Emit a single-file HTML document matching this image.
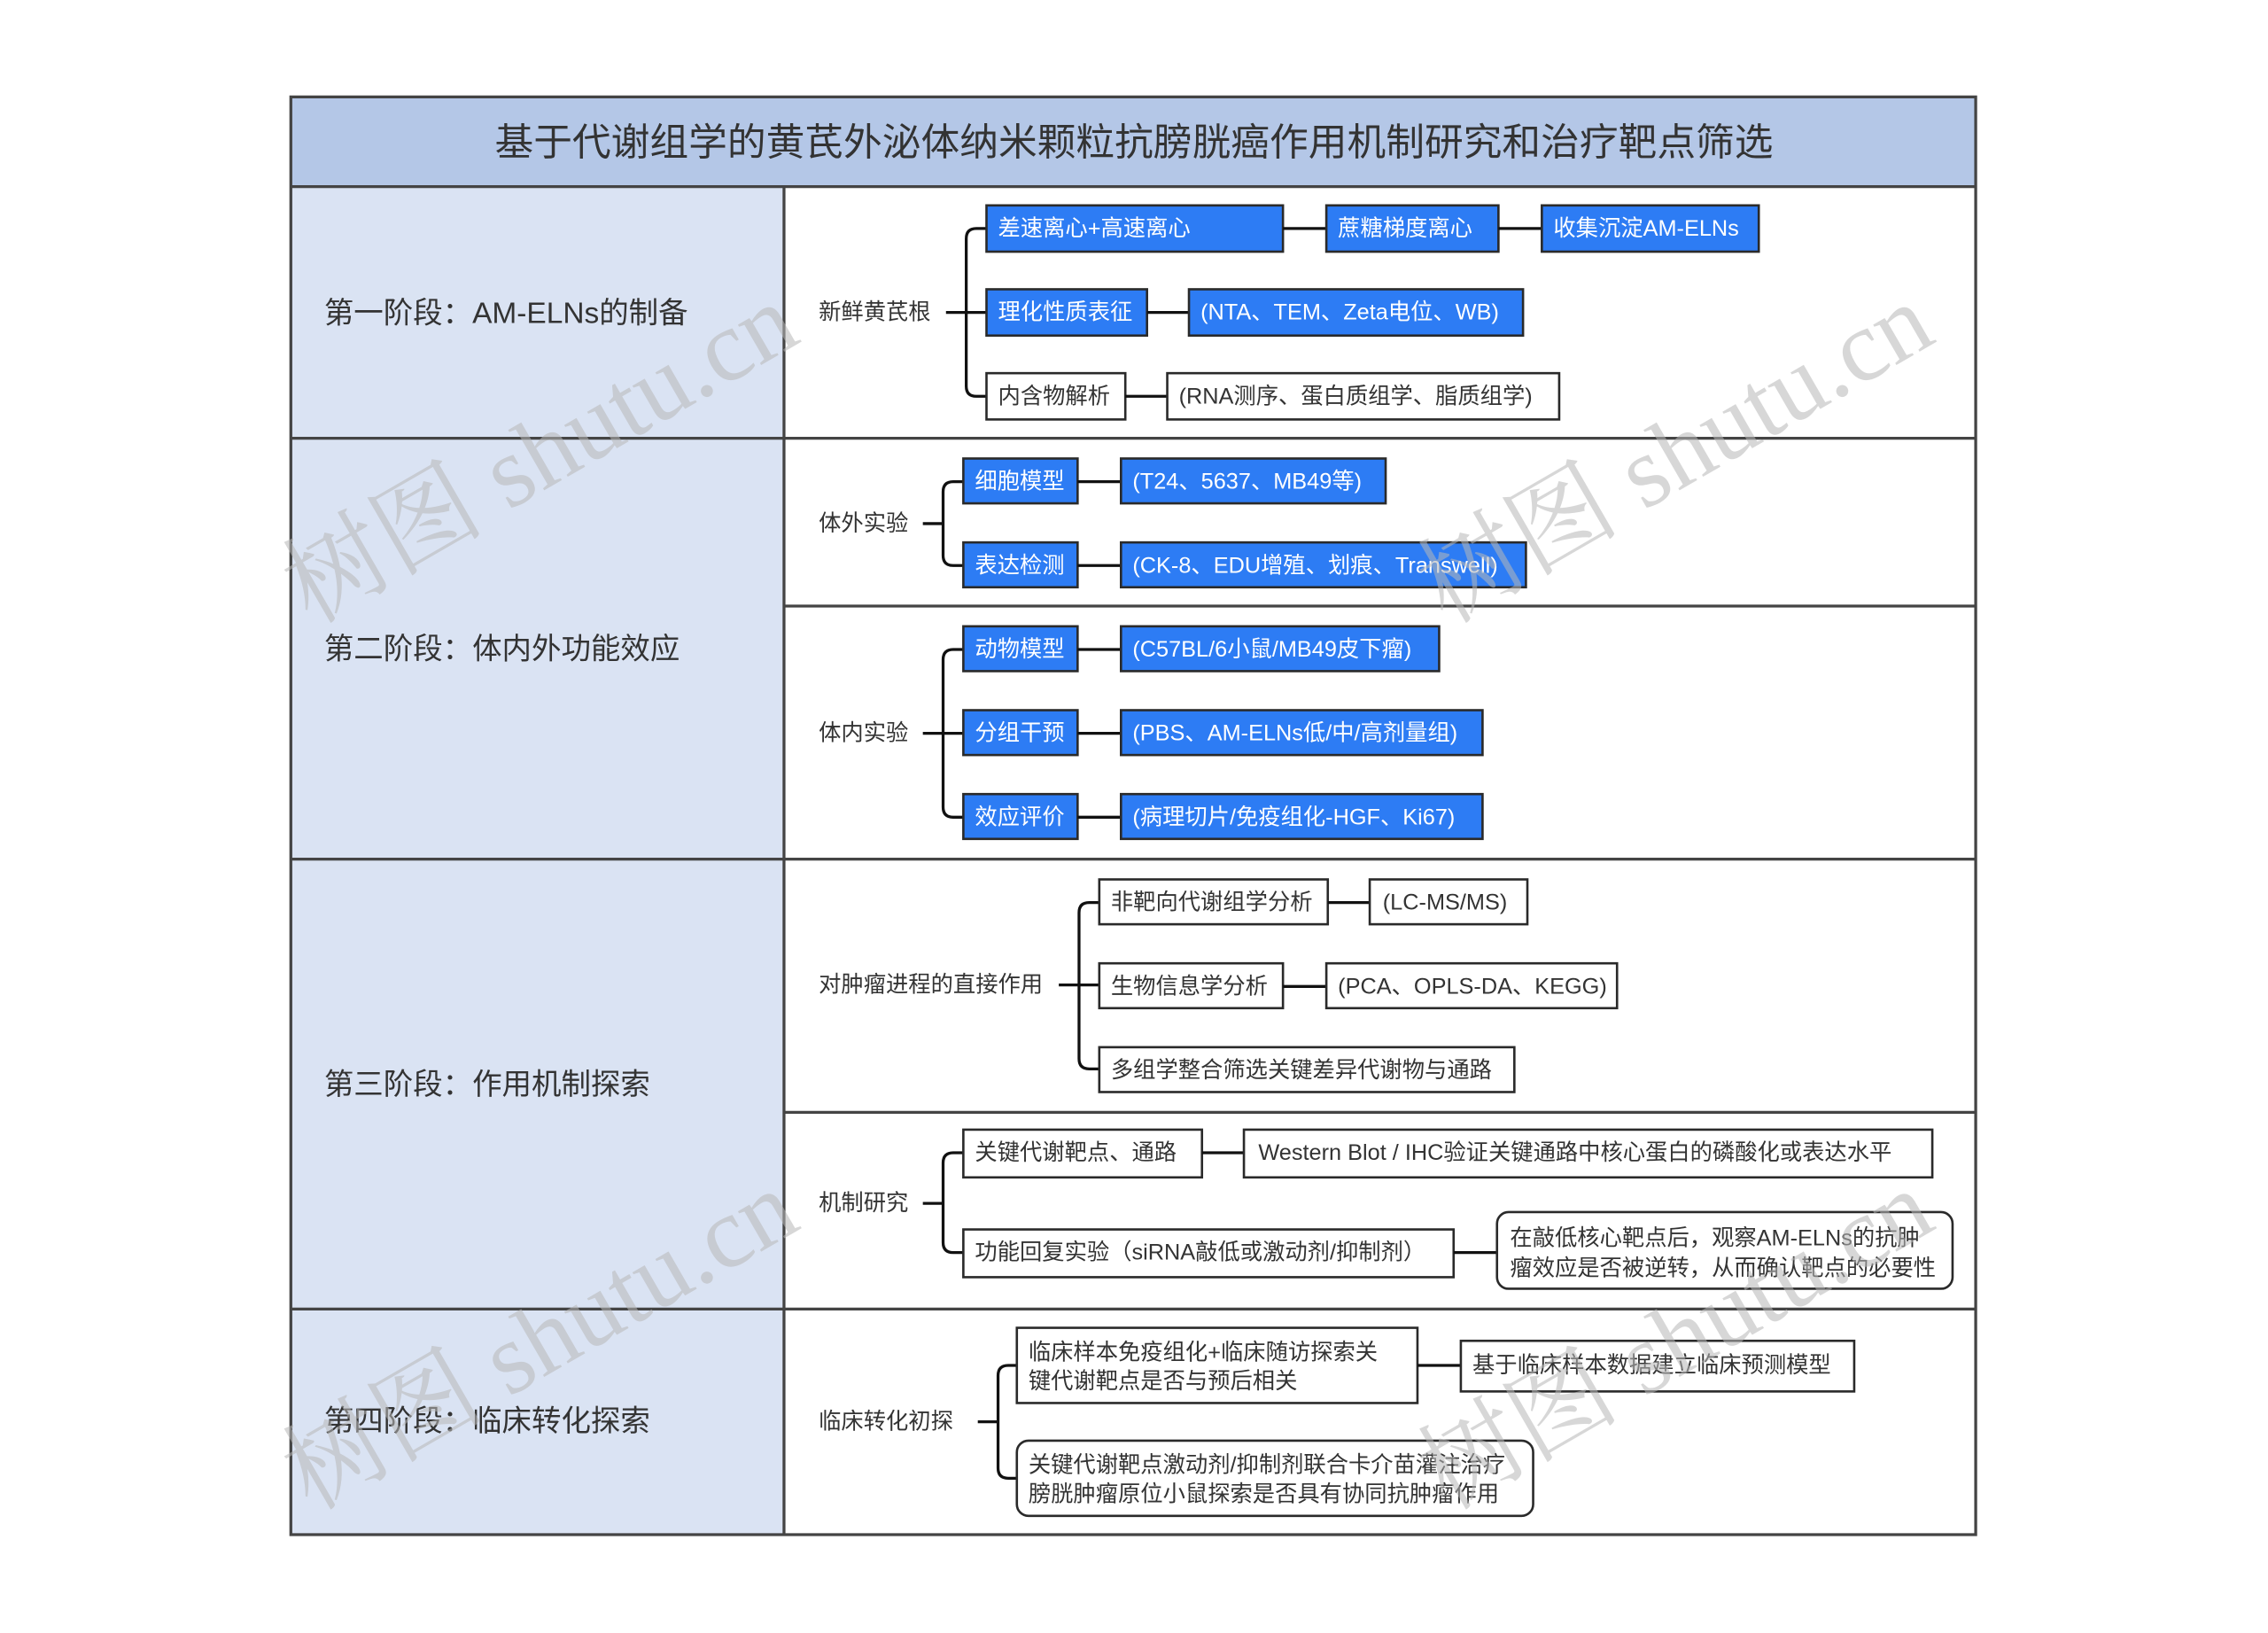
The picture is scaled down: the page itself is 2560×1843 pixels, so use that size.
<!DOCTYPE html>
<html><head><meta charset="utf-8">
<style>
html,body{margin:0;padding:0;background:#fff;}
svg{display:block;}
text{font-family:"Liberation Sans","Noto Sans CJK SC",sans-serif;fill:#333;}
.b{fill:#2d7cf4;stroke:#2a2a2a;stroke-width:1.6;}
.w{fill:#fff;stroke:#2a2a2a;stroke-width:1.6;}
.bt{fill:#fff;font-size:15.5px;}
.wt{fill:#333;font-size:15.5px;}
.l{fill:none;stroke:#111;stroke-width:2;}
.wm{font-family:"Liberation Serif","Noto Serif CJK SC",serif;font-size:70px;fill:#b8b8b8;opacity:0.55;}
</style></head>
<body>
<svg width="2560" height="1843" viewBox="0 0 1568 1129" xmlns="http://www.w3.org/2000/svg">
<rect x="0" y="0" width="1568" height="1129" fill="#fff"/>
<rect x="201" y="67" width="1165" height="62" fill="#b4c7e7"/>
<rect x="201" y="129" width="341" height="932" fill="#dae3f3"/>
<rect x="201" y="67" width="1165" height="994" fill="none" stroke="#444" stroke-width="2"/>
<line x1="201" y1="129" x2="1366" y2="129" stroke="#444" stroke-width="2"/>
<line x1="542" y1="129" x2="542" y2="1061" stroke="#444" stroke-width="2"/>
<line x1="201" y1="303" x2="1366" y2="303" stroke="#444" stroke-width="2"/>
<line x1="201" y1="594" x2="1366" y2="594" stroke="#444" stroke-width="2"/>
<line x1="201" y1="905" x2="1366" y2="905" stroke="#444" stroke-width="2"/>
<line x1="542" y1="419" x2="1366" y2="419" stroke="#444" stroke-width="2"/>
<line x1="542" y1="769" x2="1366" y2="769" stroke="#444" stroke-width="2"/>
<text x="342" y="99" font-size="26.5" textLength="884" lengthAdjust="spacingAndGlyphs" dominant-baseline="central">基于代谢组学的黄芪外泌体纳米颗粒抗膀胱癌作用机制研究和治疗靶点筛选</text>
<text x="224" y="217" font-size="20.5" dominant-baseline="central">第一阶段：AM-ELNs的制备</text>
<text x="224" y="449" font-size="20.5" dominant-baseline="central">第二阶段：体内外功能效应</text>
<text x="224" y="750" font-size="20.5" dominant-baseline="central">第三阶段：作用机制探索</text>
<text x="224" y="983" font-size="20.5" dominant-baseline="central">第四阶段：临床转化探索</text>

<text x="566" y="216" font-size="15.5" dominant-baseline="central">新鲜黄芪根</text>
<path class="l" d="M654 216H668 M682 158H675Q668 158 668 165V267Q668 274 675 274H682 M668 216H682"/>
<rect class="b" x="682" y="142" width="205" height="32"/><text class="bt" x="690" y="158" dominant-baseline="central">差速离心+高速离心</text>
<line class="l" x1="887" y1="158" x2="917" y2="158"/>
<rect class="b" x="917" y="142" width="119" height="32"/><text class="bt" x="925" y="158" dominant-baseline="central">蔗糖梯度离心</text>
<line class="l" x1="1036" y1="158" x2="1066" y2="158"/>
<rect class="b" x="1066" y="142" width="150" height="32"/><text class="bt" x="1074" y="158" dominant-baseline="central">收集沉淀AM-ELNs</text>
<rect class="b" x="682" y="200" width="111" height="32"/><text class="bt" x="690" y="216" dominant-baseline="central">理化性质表征</text>
<line class="l" x1="793" y1="216" x2="822" y2="216"/>
<rect class="b" x="822" y="200" width="231" height="32"/><text class="bt" x="830" y="216" dominant-baseline="central">(NTA、TEM、Zeta电位、WB)</text>
<rect class="w" x="682" y="258" width="96" height="32"/><text class="wt" x="690" y="274" dominant-baseline="central">内含物解析</text>
<line class="l" x1="778" y1="274" x2="807" y2="274"/>
<rect class="w" x="807" y="258" width="271" height="32"/><text class="wt" x="815" y="274" dominant-baseline="central">(RNA测序、蛋白质组学、脂质组学)</text>

<text x="566" y="362" font-size="15.5" dominant-baseline="central">体外实验</text>
<path class="l" d="M638 362H652 M666 333H659Q652 333 652 340V384Q652 391 659 391H666"/>
<rect class="b" x="666" y="317" width="79" height="31"/><text class="bt" x="674" y="333" dominant-baseline="central">细胞模型</text>
<line class="l" x1="745" y1="333" x2="775" y2="333"/>
<rect class="b" x="775" y="317" width="183" height="31"/><text class="bt" x="783" y="333" dominant-baseline="central">(T24、5637、MB49等)</text>
<rect class="b" x="666" y="375" width="79" height="31"/><text class="bt" x="674" y="391" dominant-baseline="central">表达检测</text>
<line class="l" x1="745" y1="391" x2="775" y2="391"/>
<rect class="b" x="775" y="375" width="280" height="31"/><text class="bt" x="783" y="391" dominant-baseline="central">(CK-8、EDU增殖、划痕、Transwell)</text>

<text x="566" y="507" font-size="15.5" dominant-baseline="central">体内实验</text>
<path class="l" d="M638 507H652 M666 449H659Q652 449 652 456V558Q652 565 659 565H666 M652 507H666"/>
<rect class="b" x="666" y="433" width="79" height="31"/><text class="bt" x="674" y="449" dominant-baseline="central">动物模型</text>
<line class="l" x1="745" y1="449" x2="775" y2="449"/>
<rect class="b" x="775" y="433" width="220" height="31"/><text class="bt" x="783" y="449" dominant-baseline="central">(C57BL/6小鼠/MB49皮下瘤)</text>
<rect class="b" x="666" y="491" width="79" height="31"/><text class="bt" x="674" y="507" dominant-baseline="central">分组干预</text>
<line class="l" x1="745" y1="507" x2="775" y2="507"/>
<rect class="b" x="775" y="491" width="250" height="31"/><text class="bt" x="783" y="507" dominant-baseline="central">(PBS、AM-ELNs低/中/高剂量组)</text>
<rect class="b" x="666" y="549" width="79" height="31"/><text class="bt" x="674" y="565" dominant-baseline="central">效应评价</text>
<line class="l" x1="745" y1="565" x2="775" y2="565"/>
<rect class="b" x="775" y="549" width="250" height="31"/><text class="bt" x="783" y="565" dominant-baseline="central">(病理切片/免疫组化-HGF、Ki67)</text>

<text x="566" y="681" font-size="15.5" dominant-baseline="central">对肿瘤进程的直接作用</text>
<path class="l" d="M732 681H746 M760 624H753Q746 624 746 631V732Q746 739 753 739H760 M746 681H760"/>
<rect class="w" x="760" y="608" width="158" height="31"/><text class="wt" x="768" y="624" dominant-baseline="central">非靶向代谢组学分析</text>
<line class="l" x1="918" y1="624" x2="947" y2="624"/>
<rect class="w" x="947" y="608" width="109" height="31"/><text class="wt" x="956" y="624" dominant-baseline="central">(LC-MS/MS)</text>
<rect class="w" x="760" y="666" width="127" height="31"/><text class="wt" x="768" y="682" dominant-baseline="central">生物信息学分析</text>
<line class="l" x1="887" y1="682" x2="917" y2="682"/>
<rect class="w" x="917" y="666" width="201" height="31"/><text class="wt" x="925" y="682" dominant-baseline="central">(PCA、OPLS-DA、KEGG)</text>
<rect class="w" x="760" y="724" width="287" height="31"/><text class="wt" x="768" y="740" dominant-baseline="central">多组学整合筛选关键差异代谢物与通路</text>

<text x="566" y="832" font-size="15.5" dominant-baseline="central">机制研究</text>
<path class="l" d="M638 832H652 M666 797H659Q652 797 652 804V859Q652 866 659 866H666"/>
<rect class="w" x="666" y="781" width="165" height="33"/><text class="wt" x="674" y="797" dominant-baseline="central">关键代谢靶点、通路</text>
<line class="l" x1="831" y1="797" x2="860" y2="797"/>
<rect class="w" x="860" y="781" width="476" height="33"/><text class="wt" x="870" y="797" dominant-baseline="central">Western Blot / IHC验证关键通路中核心蛋白的磷酸化或表达水平</text>
<rect class="w" x="666" y="850" width="339" height="33"/><text class="wt" x="674" y="866" dominant-baseline="central">功能回复实验（siRNA敲低或激动剂/抑制剂）</text>
<line class="l" x1="1005" y1="866" x2="1035" y2="866"/>
<rect class="w" x="1035" y="838" width="315" height="53" rx="8"/>
<text class="wt" x="1044" y="856" dominant-baseline="central">在敲低核心靶点后，观察AM-ELNs的抗肿</text>
<text class="wt" x="1044" y="877" dominant-baseline="central">瘤效应是否被逆转，从而确认靶点的必要性</text>

<text x="566" y="983" font-size="15.5" dominant-baseline="central">临床转化初探</text>
<path class="l" d="M676 983H690 M703 944H697Q690 944 690 951V1015Q690 1022 697 1022H703"/>
<rect class="w" x="703" y="918" width="277" height="52"/>
<text class="wt" x="711" y="935" dominant-baseline="central">临床样本免疫组化+临床随访探索关</text>
<text class="wt" x="711" y="955" dominant-baseline="central">键代谢靶点是否与预后相关</text>
<line class="l" x1="980" y1="944" x2="1010" y2="944"/>
<rect class="w" x="1010" y="927" width="272" height="35"/><text class="wt" x="1018" y="944" dominant-baseline="central">基于临床样本数据建立临床预测模型</text>
<rect class="w" x="703" y="996" width="357" height="52" rx="8"/>
<text class="wt" x="711" y="1013" dominant-baseline="central">关键代谢靶点激动剂/抑制剂联合卡介苗灌注治疗</text>
<text class="wt" x="711" y="1033" dominant-baseline="central">膀胱肿瘤原位小鼠探索是否具有协同抗肿瘤作用</text>

<text class="wm" transform="translate(215,432) rotate(-30)">树图 shutu.cn</text>
<text class="wm" transform="translate(1000,432) rotate(-30)">树图 shutu.cn</text>
<text class="wm" transform="translate(215,1045) rotate(-30)">树图 shutu.cn</text>
<text class="wm" transform="translate(1000,1045) rotate(-30)">树图 shutu.cn</text>
</svg>
</body></html>
